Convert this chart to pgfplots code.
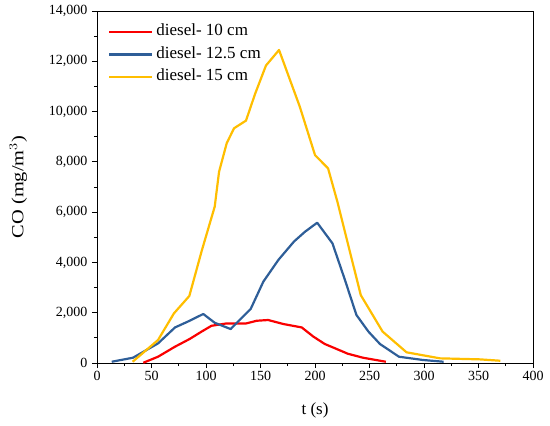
\documentclass[border=0pt]{standalone}
\usepackage{fontspec}
\setmainfont{Liberation Serif}
\usepackage{graphicx}
\usepackage{pgfplots}
\pgfplotsset{compat=1.18}
\definecolor{cred}{RGB}{250,0,0}
\definecolor{cblue}{RGB}{46,94,152}
\definecolor{cyel}{RGB}{255,190,0}
\begin{document}
\begin{tikzpicture}
\begin{axis}[
  scale only axis, width=436pt, height=352pt,
  xmin=0, xmax=400, ymin=0, ymax=14000,
  xtick={0,50,...,400}, ytick={0,2000,...,14000},
  minor x tick num=1, minor y tick num=1,
  tick align=outside, xtick pos=bottom, ytick pos=left,
  major tick length=5pt, minor tick length=3pt,
  axis line style={line width=0.9pt}, tick style={line width=0.9pt,black},
  /pgf/number format/assume math mode=true,
  /pgf/number format/.cd, 1000 sep={,}, /pgfplots/.cd,
  scaled y ticks=false,
  ticklabel style={font=\fontsize{14}{15}\selectfont},
  yticklabel style={xshift=-1pt},
  xlabel={t (s)}, ylabel={\scalebox{1.2}[1]{CO (mg/m$^3$)}},
  label style={font=\fontsize{17}{18}\selectfont},
  xlabel style={yshift=-15pt},
  ylabel style={yshift=15pt},
  legend style={draw=none, fill=none, at={(0,1)}, anchor=north west, xshift=11pt, yshift=-12pt,
    inner sep=0pt, outer sep=0pt,
    font=\fontsize{17}{18}\selectfont, row sep=4.5pt, column sep=2pt,
    nodes={inner sep=1pt, text height=12pt, text depth=4pt},
    legend cell align=left},
  legend image code/.code={\draw[#1, line width=2.4pt] (0pt,0pt) -- (43pt,0pt);},
  every axis plot/.append style={line width=2.2pt, line join=round},
]
\addplot[cred] coordinates {
(42.5,10) (56,250) (71.6,650) (85,955) (96,1250) (105,1480) (119,1575) (137,1575)
(146.5,1680) (157,1710) (171,1550) (187.8,1415) (198.5,1050) (209,755) (220,555)
(230,370) (244,210) (265,50)};
\addlegendentry{diesel- 10 cm}
\addplot[cblue] coordinates {
(13.5,50) (33,210) (56,780) (71.6,1415) (85,1680) (97.5,1950) (108,1600) (122.6,1350)
(141,2150) (152.6,3235) (166.4,4100) (180.7,4830) (190.8,5220) (202,5580) (216,4760)
(227.5,3300) (238,1910) (249,1250) (259.6,755) (277,250) (299,120) (318,50)};
\addlegendentry{diesel- 12.5 cm}
\addplot[cyel] coordinates {
(32.7,50) (56,915) (70.6,1975) (84.7,2665) (96,4450) (108,6220) (112,7610) (119,8740)
(125.7,9335) (136.7,9640) (145,10700) (155,11830) (167,12450) (186,10200) (200,8270)
(212,7740) (220.5,6420) (242,2700) (262,1250) (284,425) (314.7,185) (351,145) (370,90)};
\addlegendentry{diesel- 15 cm}
\coordinate (sw) at (rel axis cs:0,0);
\coordinate (ne) at (rel axis cs:1,1);
\end{axis}
\pgfresetboundingbox
\path ([shift={(-97pt,-62pt)}]sw) rectangle ([shift={(17pt,11pt)}]ne);
\end{tikzpicture}
\end{document}
